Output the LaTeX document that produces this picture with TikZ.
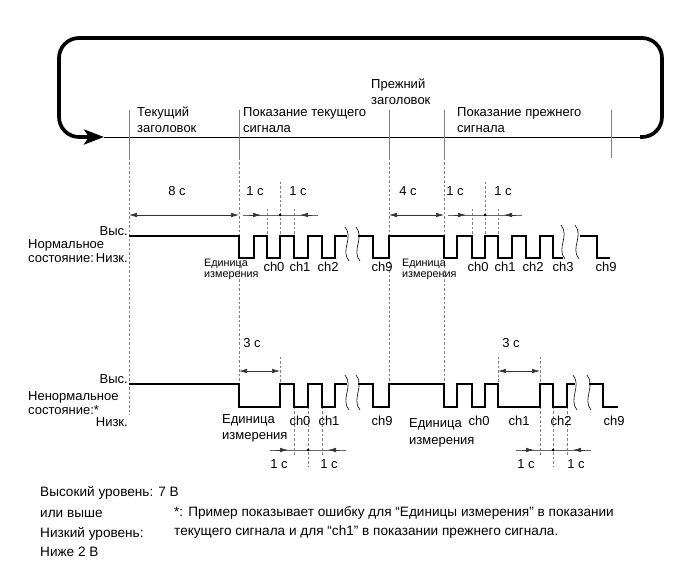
\documentclass[tikz,border=0pt]{standalone}
\usepackage{fontspec}
\setmainfont{Liberation Sans}
\usetikzlibrary{arrows.meta}

\tikzset{
  wave/.style={line width=1.5pt},
  tick/.style={gray, line width=0.6pt},
  guide/.style={gray, line width=0.6pt, dash pattern=on 2.5pt off 2pt},
  dimline/.style={black!80, line width=0.6pt, {Latex[length=8pt,width=4.5pt]}-{Latex[length=8pt,width=4.5pt]}},
  dimthin/.style={black!60, line width=0.6pt},
  tipr/.style={black!80, line width=0.6pt, -{Latex[length=8pt,width=4.5pt]}},
  brk/.style={line width=0.6pt},
  lbl/.style={inner sep=0pt, anchor=base west},
  lblr/.style={inner sep=0pt, anchor=base east},
  lblc/.style={inner sep=0pt, anchor=base},
  unitsm/.style={inner sep=0pt, anchor=base west, font=\fontsize{10.8}{11}\selectfont},
  note/.style={inner sep=0pt, anchor=base west, font=\fontsize{13.6}{16}\selectfont},
}

\begin{document}
\begin{tikzpicture}[x=1pt,y=-1pt,font=\fontsize{13}{16}\selectfont]
\useasboundingbox (0,0) rectangle (689,564);
% cycle
\draw[line width=3.7pt,rounded corners=20pt,-{Stealth[length=20pt,width=15pt,inset=5pt]}]
  (640,137) -- (662,137) -- (662,38) -- (59,38) -- (59,137) -- (104,137);
\draw[line width=0.6pt] (104,137) -- (640,137);
\foreach \x in {129,239,389,444,611}
  \draw[tick] (\x,110) -- (\x,158);
\node[lbl] (curA) at (137,117) {Текущий};
\node[lbl] (curB) at (137,133) {заголовок};
\node[lbl] (rdA) at (243,117) {Показание текущего};
\node[lbl] (rdB) at (243,133) {сигнала};
\node[lbl] (preA) at (371,89) {Прежний};
\node[lbl] (preB) at (371,105) {заголовок};
\node[lbl] (prdA) at (457,117) {Показание прежнего};
\node[lbl] (prdB) at (457,133) {сигнала};
% guides
\draw[guide] (129,158) -- (129,415);
\draw[guide] (239,158) -- (239,384);
\draw[guide] (389,158) -- (389,407);
\draw[guide] (444,158) -- (444,384);
\foreach \x in {280,498,540}
  \draw[guide] (\x,357) -- (\x,384);
\foreach \x in {267,294,472,498}
  \draw[guide] (\x,209) -- (\x,236);
\foreach \x in {280,485}
  \draw[guide] (\x,182) -- (\x,236);
\foreach \x in {294,322,540,567}
  \draw[guide] (\x,407) -- (\x,456);
\foreach \x in {308,553}
  \draw[guide] (\x,407) -- (\x,467);
% dimensions
\draw[dimline] (129,215) -- (239,215);
\draw[dimline] (389,215) -- (444,215);
\draw[dimline] (239,371) -- (280,371);
\draw[dimline] (498,371) -- (540,371);
\foreach \xa/\xm/\xb/\yy in {267/280/294/215,472/485/498/215,294/308/322/450,540/553/567/450}{
  \draw[dimthin] ({\xa-24},\yy) -- ({\xb+24},\yy);
  \draw[tipr] ({\xa-18},\yy) -- ({\xa-6},\yy);
  \draw[tipr] ({\xb+18},\yy) -- ({\xb+6},\yy);
  \fill (\xm,\yy) circle[radius=1.5pt];
}
\node[lblc] (t8) at (177,196) {8 с};
\node[lblc] (t1a) at (255,196) {1 с};
\node[lblc] (t1b) at (298,196) {1 с};
\node[lblc] (t4) at (408,196) {4 с};
\node[lblc] (t1c) at (455,196) {1 с};
\node[lblc] (t1d) at (503,196) {1 с};
\node[lblc] (t3a) at (252,348) {3 с};
\node[lblc] (t3b) at (511,348) {3 с};
\node[lblc] (t1e) at (279,468) {1 с};
\node[lblc] (t1f) at (329,468) {1 с};
\node[lblc] (t1g) at (526,468) {1 с};
\node[lblc] (t1h) at (576,468) {1 с};
% normal
\draw[wave] (129,236) -| (239,258) -| (254,236) -| (267,258) -| (280,236) -| (294,258)
  -| (308,236) -| (322,258) -| (335,236) -- (347,236);
\draw[wave] (358,236) -| (373,258) -| (389,236) -| (444,258) -| (457,236) -| (472,258)
  -| (485,236) -| (498,258) -| (512,236) -| (526,258) -| (540,236) -| (553,258) -- (563,258);
\draw[wave] (580,236) -| (597,258) -- (610,258);
% abnormal
\draw[wave] (129,384) -| (239,407) -| (280,384) -| (294,407) -| (308,384) -| (322,407)
  -| (335,384) -- (347,384);
\draw[wave] (358,384) -| (373,407) -| (389,384) -| (444,407) -| (457,384) -| (472,407)
  -| (485,384) -| (498,407) -| (540,384) -| (553,407) -| (567,384) -- (575,384);
\draw[wave] (589,384) -| (603,407) -- (618,407);
\foreach \x/\ya/\yb in {347/227/261,358/227/261,563/225/259,577/225/259,347/375/410,358/375/410,575/375/410,589/375/410}
  \draw[brk] ({\x-2},\ya) .. controls ({\x+7},{\ya+11}) and ({\x-7},{\yb-11}) .. ({\x+2},\yb);
% level labels
\node[lblr] (nHi) at (128,236) {Выс.};
\node[lbl] (nA) at (28,249) {Нормальное};
\node[lbl] (nB) at (28,263) {состояние:};
\node[lblr] (nLo) at (128,263) {Низк.};
\node[lblr] (aHi) at (128,384) {Выс.};
\node[lbl] (aA) at (28,400) {Ненормальное};
\node[lbl] (aB) at (28,415) {состояние:*};
\node[lblr] (aLo) at (128,427) {Низк.};
% channel labels
\node[unitsm] (nuA) at (204,267) {Единица};
\node[unitsm] (nuB) at (204,278) {измерения};
\node[unitsm] (puA) at (402,267) {Единица};
\node[unitsm] (puB) at (402,278) {измерения};
\foreach \x/\t in {274/ch0,300/ch1,328/ch2,382/ch9,478/ch0,505/ch1,533/ch2,563/ch3,606/ch9}
  \node[lblc] at (\x,272) {\t};
\node[lbl] (auA) at (222,424) {Единица};
\node[lbl] (auB) at (222,439) {измерения};
\node[lbl] (buA) at (409,428) {Единица};
\node[lbl] (buB) at (409,444) {измерения};
\foreach \x/\t in {300/ch0,329/ch1,382/ch9,479/ch0,519/ch1,561/ch2,614/ch9}
  \node[lblc] at (\x,426) {\t};
% notes
\node[note] (hiA) at (40,496) {Высокий уровень: 7 В};
\node[note] (hiB) at (40,517) {или выше};
\node[note] (loA) at (40,537) {Низкий уровень:};
\node[note] (loB) at (40,556) {Ниже 2 В};
\node[note] (fnA) at (174,516) {*: Пример показывает ошибку для “Единицы измерения” в показании};
\node[note] (fnB) at (174,535) {текущего сигнала и для “ch1” в показании прежнего сигнала.};
\end{tikzpicture}
\end{document}
